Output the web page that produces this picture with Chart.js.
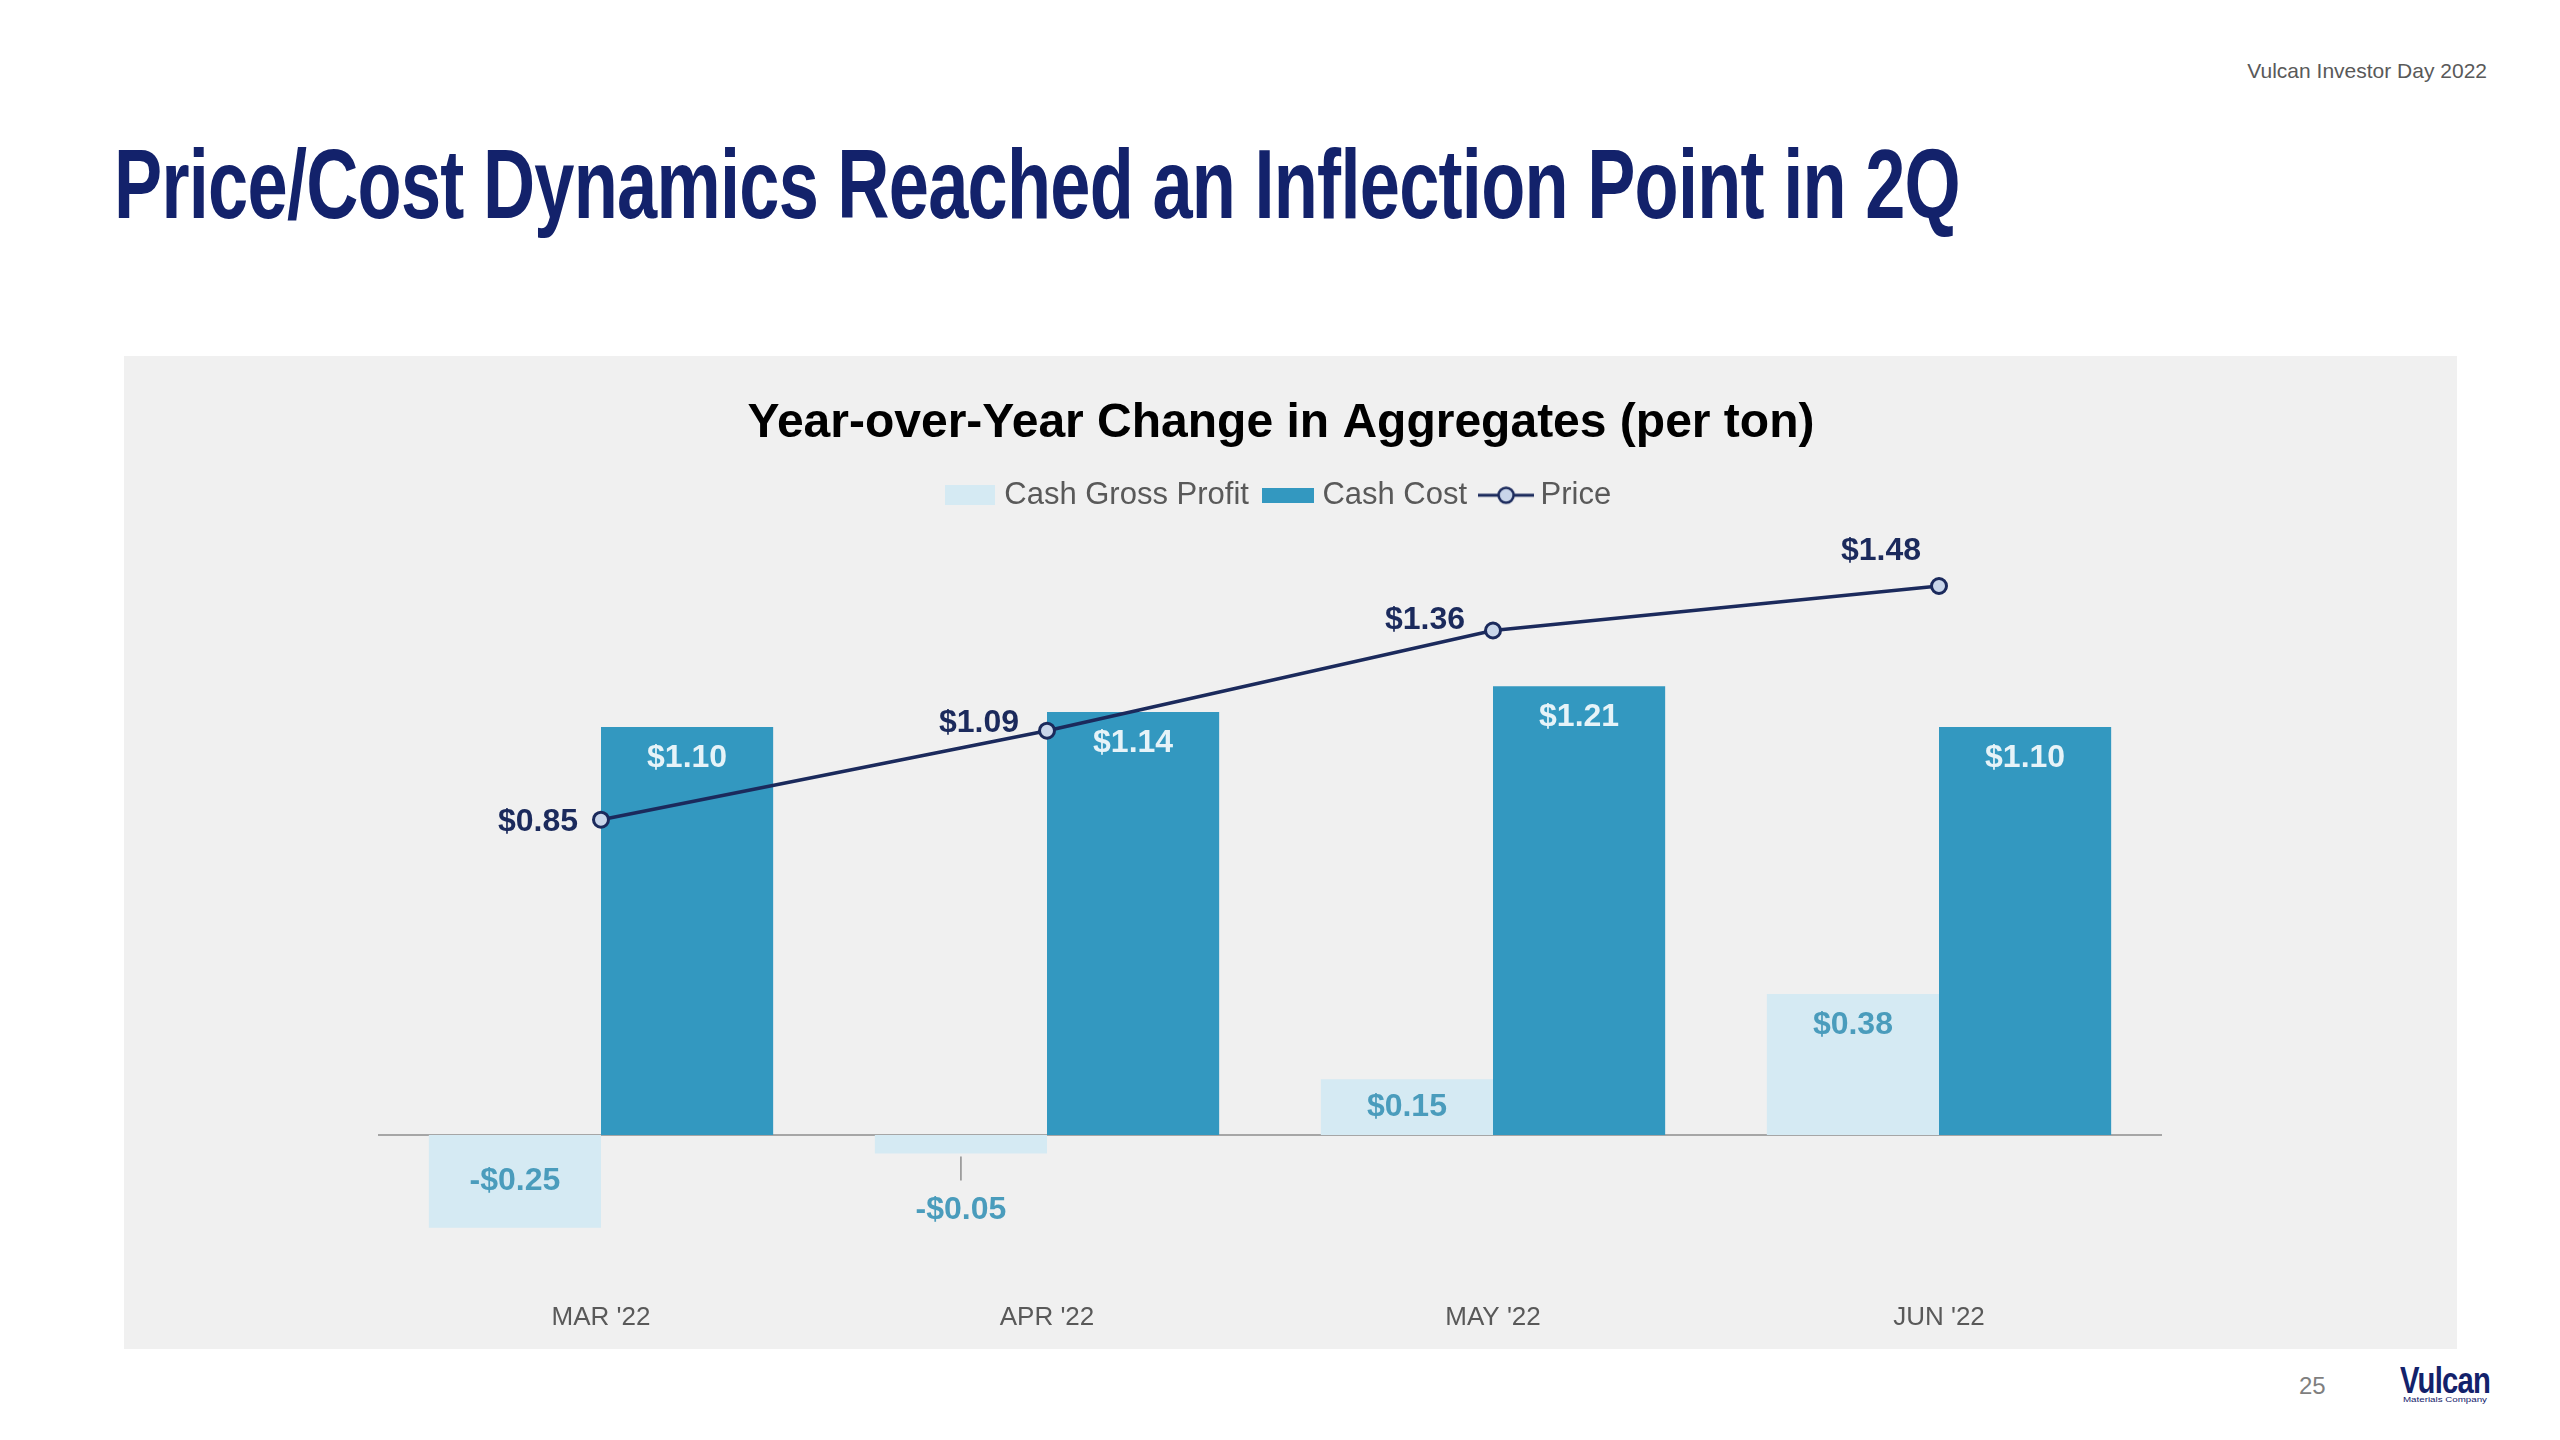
<!DOCTYPE html>
<html>
<head>
<meta charset="utf-8">
<title>Price/Cost Dynamics</title>
<script src="https://cdn.jsdelivr.net/npm/chart.js@4.4.0/dist/chart.umd.min.js"></script>
<style>
  body { margin: 0; width: 2560px; height: 1440px; background: #fff; position: relative; overflow: hidden;
         font-family: "Liberation Sans", Arial, sans-serif; }
  .txt { position: absolute; white-space: nowrap; line-height: 1; transform-origin: 0 0; }
  #headline { left: 114px; top: 135px; font-size: 98px; font-weight: bold; color: #13226b; letter-spacing: -1px; }
  #event { right: 73px; top: 60px; font-size: 21px; color: #595959; }
  #panel { position: absolute; left: 124px; top: 356px; width: 2333px; height: 993px; background: #f0f0f0; }
  #pageNum { left: 2299px; top: 1374px; font-size: 24px; color: #7f7f7f; }
  #logoName { left: 2400px; top: 1362px; font-size: 37px; font-weight: bold; color: #13226b; letter-spacing: -1px; }
  #logoSub { left: 2403px; top: 1396px; font-size: 8px; color: #13226b; }
</style>
</head>
<body>
<div id="event" class="txt">Vulcan Investor Day 2022</div>
<div id="headline" class="txt">Price/Cost Dynamics Reached an Inflection Point in 2Q</div>
<div id="panel"><canvas id="chart" width="2333" height="993"></canvas></div>
<div id="pageNum" class="txt">25</div>
<div id="logoName" class="txt">Vulcan</div>
<div id="logoSub" class="txt">Materials Company</div>
<script>
const categories = ["MAR '22", "APR '22", "MAY '22", "JUN '22"];
const cashGrossProfit = [-0.25, -0.05, 0.15, 0.38];
const cashCost = [1.10, 1.14, 1.21, 1.10];
const price = [0.85, 1.09, 1.36, 1.48];

const NAVY = '#1b2a5c';
const LIGHT = '#d5eaf3';
const DARK = '#3398c0';
const MARKER = '#c9d6ea';

// squeeze condensed-looking text to the width it has in the slide
const fitWidth = (id, w) => {
    const el = document.getElementById(id);
    const cur = el.getBoundingClientRect().width;
    el.style.transform = `scaleX(${w / cur})`;
};
fitWidth('headline', 1846);
fitWidth('logoName', 90);
fitWidth('logoSub', 84);

const fmt = (v) => (v < 0 ? '-$' : '$') + Math.abs(v).toFixed(2);

const makeSwatch = (w, h, draw) => {
    const c = document.createElement('canvas');
    c.width = w;
    c.height = h;
    draw(c.getContext('2d'), w, h);
    return c;
};
const grossSwatch = makeSwatch(50, 20, (ctx, w, h) => { ctx.fillStyle = LIGHT; ctx.fillRect(0, 0, w, h); });
const costSwatch = makeSwatch(52, 15, (ctx, w, h) => { ctx.fillStyle = DARK; ctx.fillRect(0, 0, w, h); });
const priceSwatch = makeSwatch(56, 22, (ctx, w, h) => {
    ctx.strokeStyle = NAVY;
    ctx.lineWidth = 3;
    ctx.beginPath(); ctx.moveTo(0, h / 2); ctx.lineTo(w, h / 2); ctx.stroke();
    ctx.fillStyle = MARKER;
    ctx.lineWidth = 2.5;
    ctx.beginPath(); ctx.arc(w / 2, h / 2, 7.5, 0, Math.PI * 2); ctx.fill(); ctx.stroke();
});

const valueLabels = {
    id: 'valueLabels',
    beforeDatasetsDraw(chart) {
        // zero line
        const { ctx, chartArea, scales } = chart;
        const y0 = scales.y.getPixelForValue(0);
        ctx.save();
        ctx.strokeStyle = '#a6a6a6';
        ctx.lineWidth = 2;
        ctx.beginPath();
        ctx.moveTo(chartArea.left, y0);
        ctx.lineTo(chartArea.right, y0);
        ctx.stroke();
        ctx.restore();
    },
    afterDatasetsDraw(chart, args, opts) {
        const ctx = chart.ctx;
        ctx.save();
        ctx.font = 'bold 32px "Liberation Sans", Arial, sans-serif';
        ctx.textBaseline = 'middle';
        chart.data.datasets.forEach((ds, i) => {
            const meta = chart.getDatasetMeta(i);
            if (ds.type === 'line') {
                ctx.fillStyle = NAVY;
                ctx.textAlign = 'right';
                meta.data.forEach((pt, j) => {
                    const [dx, dy] = opts.priceOffsets[j];
                    ctx.fillText(fmt(ds.data[j]), pt.x + dx, pt.y + dy);
                });
                return;
            }
            ctx.textAlign = 'center';
            meta.data.forEach((bar, j) => {
                const v = ds.data[j];
                const dir = v < 0 ? 1 : -1;
                const h = Math.abs(bar.base - bar.y);
                let y;
                if (h < 40) {
                    // too thin, put it outside with a leader line
                    ctx.strokeStyle = '#8c8c8c';
                    ctx.lineWidth = 1.5;
                    ctx.beginPath();
                    ctx.moveTo(bar.x, bar.y + dir * 3);
                    ctx.lineTo(bar.x, bar.y + dir * 27);
                    ctx.stroke();
                    y = bar.y + dir * 57;
                } else if (h < 110) {
                    y = (bar.y + bar.base) / 2;
                } else {
                    y = bar.y - dir * 31;
                }
                ctx.fillStyle = opts.barColors[i];
                ctx.fillText(fmt(v), bar.x, y);
            });
        });
        ctx.restore();
    }
};

const chart = new Chart(document.getElementById('chart'), {
    type: 'bar',
    data: {
        labels: categories,
        datasets: [
            { label: 'Cash Gross Profit', data: cashGrossProfit, backgroundColor: LIGHT, order: 1,
              categoryPercentage: 0.772, barPercentage: 1 },
            { label: 'Cash Cost', data: cashCost, backgroundColor: DARK, order: 1,
              categoryPercentage: 0.772, barPercentage: 1 },
            { type: 'line', label: 'Price', data: price, order: 0,
              borderColor: NAVY, borderWidth: 3.5, tension: 0,
              pointRadius: 7.5, pointBorderWidth: 3, pointBackgroundColor: MARKER, pointBorderColor: NAVY }
        ]
    },
    options: {
        responsive: false,
        animation: false,
        devicePixelRatio: 1,
        layout: { padding: { left: 254, right: 273, top: 0, bottom: 5.5 } },
        scales: {
            x: {
                grid: { display: false, drawTicks: false },
                border: { display: false },
                ticks: { color: '#595959', font: { size: 26, family: '"Liberation Sans", Arial, sans-serif' }, padding: 10 }
            },
            y: {
                display: false,
                min: -0.424,
                max: 1.656
            },
            // empty spacer on the right so title and legend sit where the slide has them
            spacer: {
                position: 'right',
                grid: { display: false },
                border: { display: false },
                ticks: { display: false },
                afterFit: (scale) => { scale.width = 22; }
            }
        },
        plugins: {
            title: {
                display: true,
                text: 'Year-over-Year Change in Aggregates (per ton)',
                color: '#000',
                font: { size: 48, weight: 'bold', family: '"Liberation Sans", Arial, sans-serif' },
                padding: { top: 38.7, bottom: 7.4 }
            },
            legend: {
                labels: {
                    color: '#595959',
                    font: { size: 31, family: '"Liberation Sans", Arial, sans-serif' },
                    usePointStyle: true,
                    pointStyleWidth: 38,
                    padding: 20,
                    generateLabels: () => [
                        { text: 'Cash Gross Profit', pointStyle: grossSwatch, fontColor: '#595959', datasetIndex: 0 },
                        { text: 'Cash Cost', pointStyle: costSwatch, fontColor: '#595959', datasetIndex: 1 },
                        { text: 'Price', pointStyle: priceSwatch, fontColor: '#595959', datasetIndex: 2 }
                    ]
                }
            },
            tooltip: { enabled: false },
            valueLabels: {
                barColors: ['#4a9cbc', '#e6f3f8'],
                priceOffsets: [[-23, 2], [-28, -7], [-28, -10], [-18, -35]]
            }
        }
    },
    plugins: [valueLabels]
});
</script>
</body>
</html>
